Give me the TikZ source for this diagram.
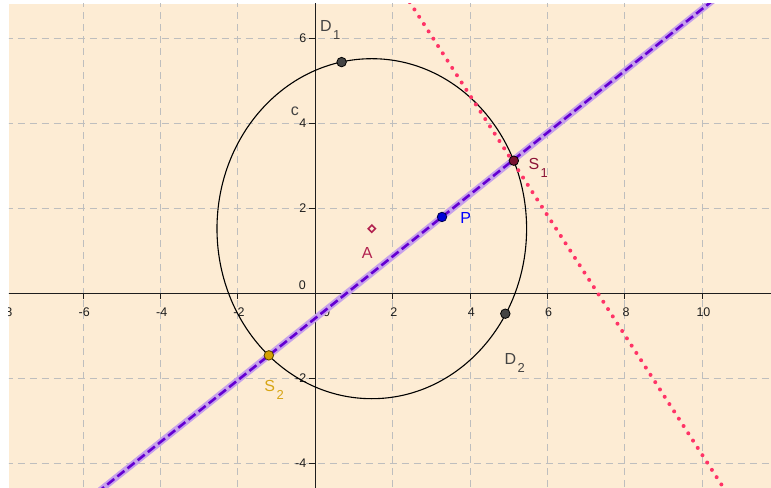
\documentclass[tikz,border=0pt]{standalone}
\usepackage{fontspec}
\usetikzlibrary{calc}
\setmainfont{Liberation Sans}
\definecolor{bgc}{RGB}{253,236,212}
\definecolor{gridgray}{RGB}{190,190,190}
\definecolor{axisc}{RGB}{30,30,30}
\definecolor{purpdash}{RGB}{100,0,210}
\definecolor{purphalo}{RGB}{198,160,235}
\definecolor{redline}{RGB}{255,51,102}
\definecolor{dgray}{RGB}{68,68,68}
\definecolor{sonefill}{RGB}{122,18,48}
\definecolor{sonetext}{RGB}{140,20,55}
\definecolor{pblue}{RGB}{0,0,215}
\definecolor{ptext}{RGB}{0,0,255}
\definecolor{stwofill}{RGB}{212,160,0}
\definecolor{stwotext}{RGB}{215,165,20}
\definecolor{acol}{RGB}{178,34,80}
\newcommand{\lsb}[1]{\kern1.5pt\raisebox{-8pt}{\fontsize{13}{13}\selectfont #1}}
\begin{document}
\begin{tikzpicture}[x=38.7pt,y=42.5pt,
  gridline/.style={draw=gridgray, line width=0.9pt, dash pattern=on 7pt off 5pt},
  axisline/.style={draw=axisc, line width=1.2pt},
  tickmark/.style={draw=axisc, line width=1pt},
  ticklab/.style={font=\fontsize{12.5}{12.5}\selectfont, text=axisc, inner sep=0pt},
  ptlab/.style={font=\fontsize{16}{16}\selectfont, inner sep=0pt},
  ptdot/.style={circle, line width=0.8pt, minimum size=9.5pt, inner sep=0pt}]
% page and plot area
\fill[white] (-8.147,-4.581) rectangle (11.775,6.901);
\fill[bgc] (-7.915,-4.581) rectangle (11.775,6.807);
\begin{scope}
\clip (-7.915,-4.581) rectangle (11.775,6.807);
% grid
\foreach \x in {-6,-4,-2,2,4,6,8,10}
  \draw[gridline] (\x,6.9) -- (\x,-4.7);
\foreach \y in {-4,-2,2,4,6}
  \draw[gridline] (-8,\y) -- (11.9,\y);
% axes
\draw[axisline] (-8.2,0) -- (11.9,0);
\draw[axisline] (0,-4.7) -- (0,6.9);
\foreach \x in {-8,-6,-4,-2,2,4,6,8,10}
  \draw[tickmark] (\x,0) -- (\x,-0.13);
\foreach \y in {-4,-2,2,4,6}
  \draw[tickmark] (0,\y) -- (-0.16,\y);
\foreach \x in {-8,-6,-4,-2,2,4,6,8,10}
  \node[ticklab] (xl\x) at (\x+0.03,-0.45) {\x};
\foreach \y in {-4,-2,2,4,6}
  \node[ticklab, anchor=east] (yl\y) at (-0.227,\y) {\y};
\node[ticklab] (xlzero) at (0.295,-0.45) {0};
\node[ticklab, anchor=east] (ylzero) at (-0.24,0.195) {0};
% circle c
\coordinate (A) at (1.46,1.52);
\draw[black, line width=1.1pt] (A) ellipse [x radius=154.8pt, y radius=170pt];
\node[ptlab, text=dgray] (clab) at (-0.525,4.29) {c};
% purple line
\coordinate (pl1) at (-8,-6.411);
\coordinate (pl2) at (12,8.149);
\draw[purphalo, line width=6.5pt] (pl1) -- (pl2);
\draw[purpdash, line width=2.6pt, dash pattern=on 9pt off 4pt] (pl1) -- (pl2);
% red dotted line
\coordinate (rl1) at (2.44,6.85);
\coordinate (rl2) at (10.6,-4.65);
\draw[redline, line width=4pt, line cap=round, dash pattern=on 0pt off 8.7pt] (rl1) -- (rl2);
% point A
\draw[acol, line width=1.6pt, fill=bgc] ($(A)+(0,3.6pt)$) -- ($(A)+(3.6pt,0)$) -- ($(A)+(0,-3.6pt)$) -- ($(A)+(-3.6pt,0)$) -- cycle;
\node[ptlab, text=acol] (Alab) at (1.344,0.941) {A};
% points
\node[ptdot, fill=dgray, draw=black] (D1) at (0.68,5.44) {};
\node[ptdot, fill=dgray, draw=black] (D2) at (4.91,-0.48) {};
\node[ptdot, fill=pblue, draw=black!70!blue] (P) at (3.274,1.796) {};
\node[ptdot, fill=sonefill, draw=black] (S1) at (5.13,3.12) {};
\node[ptdot, fill=stwofill, draw=black!60!stwofill] (S2) at (-1.20,-1.46) {};
% labels
\node[ptlab, text=dgray, anchor=base west] (D1lab) at (0.121,6.155) {D\lsb{1}};
\node[ptlab, text=dgray, anchor=base west] (D2lab) at (4.884,-1.687) {D\lsb{2}};
\node[ptlab, text=ptext] (Plab) at (3.886,1.765) {P};
\node[ptlab, text=sonetext, anchor=base west] (S1lab) at (5.504,2.918) {S\lsb{1}};
\node[ptlab, text=stwotext, anchor=base west] (S2lab) at (-1.318,-2.315) {S\lsb{2}};
\end{scope}
\end{tikzpicture}
\end{document}
